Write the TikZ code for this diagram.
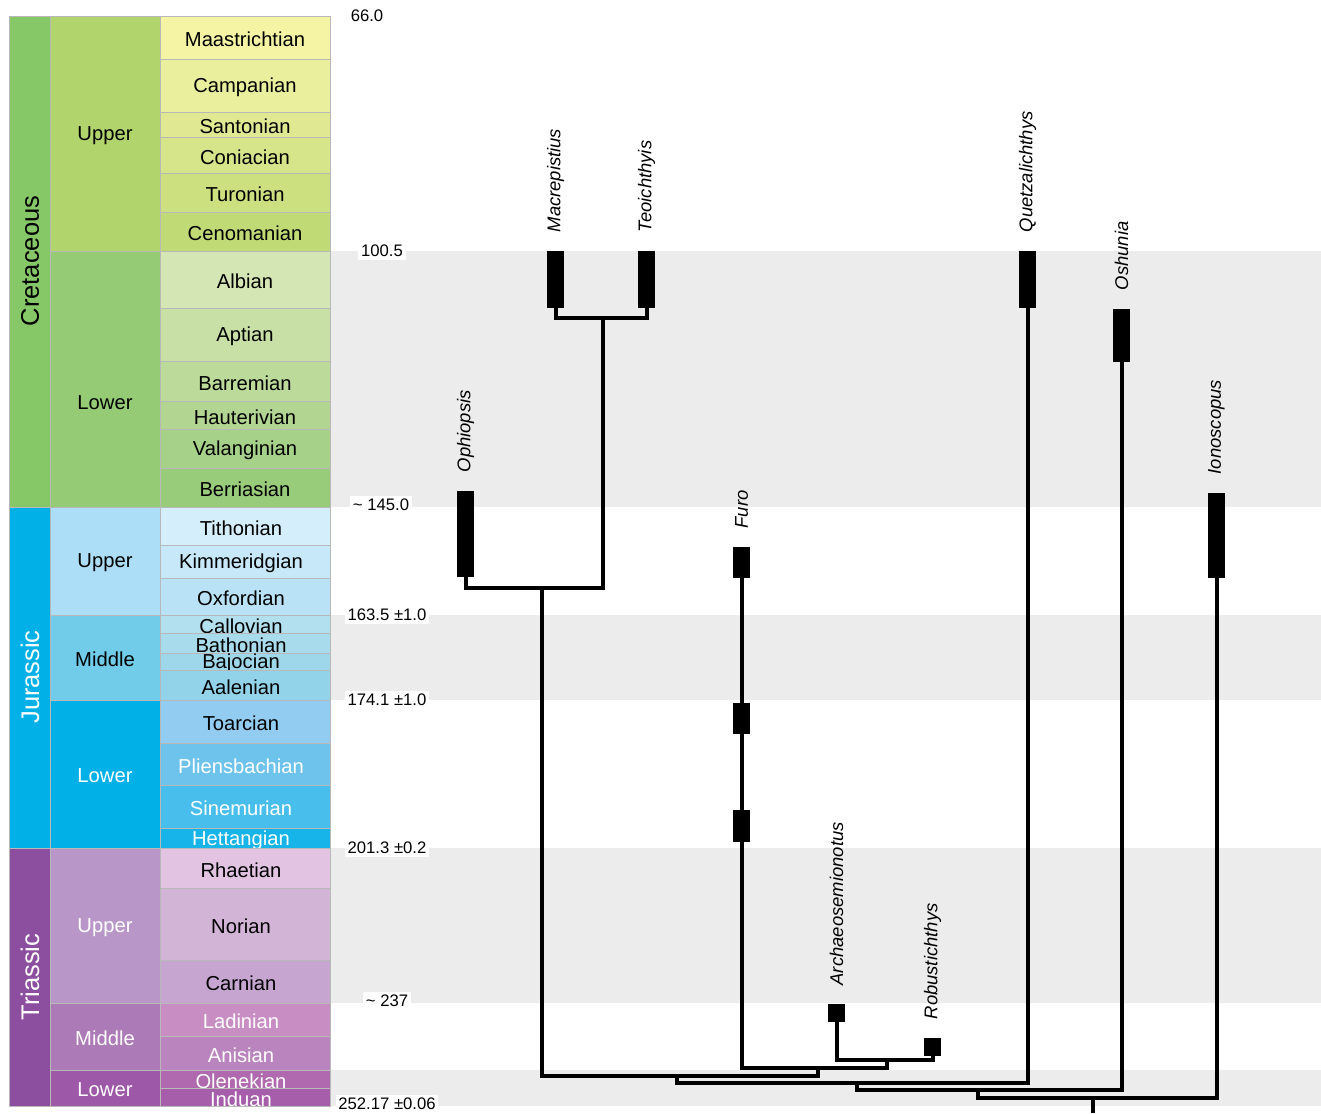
\documentclass[tikz,border=0pt]{standalone}
\usepackage{fontspec}
\setmainfont{Liberation Sans}
\usepackage{tikz}
\usetikzlibrary{calc}

% chart colours
\definecolor{cret}{RGB}{134,200,104}
\definecolor{kUp}{RGB}{178,212,108}
\definecolor{kLo}{RGB}{150,203,118}
\definecolor{maas}{RGB}{244,244,164}
\definecolor{camp}{RGB}{234,239,158}
\definecolor{sant}{RGB}{224,233,146}
\definecolor{coni}{RGB}{214,228,138}
\definecolor{turo}{RGB}{204,224,128}
\definecolor{ceno}{RGB}{192,218,118}
\definecolor{albi}{RGB}{212,230,180}
\definecolor{apti}{RGB}{200,224,166}
\definecolor{barr}{RGB}{188,219,154}
\definecolor{haut}{RGB}{178,214,146}
\definecolor{vala}{RGB}{166,209,136}
\definecolor{berr}{RGB}{152,203,122}
\definecolor{jura}{RGB}{0,176,230}
\definecolor{jUp}{RGB}{172,223,247}
\definecolor{jMi}{RGB}{112,204,232}
\definecolor{jLo}{RGB}{0,176,230}
\definecolor{tith}{RGB}{212,239,251}
\definecolor{kimm}{RGB}{198,232,249}
\definecolor{oxfo}{RGB}{186,226,247}
\definecolor{call}{RGB}{178,224,238}
\definecolor{bath}{RGB}{168,220,236}
\definecolor{bajo}{RGB}{158,215,234}
\definecolor{aale}{RGB}{146,211,234}
\definecolor{toar}{RGB}{146,205,241}
\definecolor{plie}{RGB}{110,195,237}
\definecolor{sine}{RGB}{72,190,236}
\definecolor{hett}{RGB}{22,180,232}
\definecolor{tria}{RGB}{140,78,158}
\definecolor{tUp}{RGB}{184,150,200}
\definecolor{tMi}{RGB}{172,122,182}
\definecolor{tLo}{RGB}{158,88,168}
\definecolor{rhae}{RGB}{226,196,226}
\definecolor{nori}{RGB}{210,180,215}
\definecolor{carn}{RGB}{198,166,208}
\definecolor{ladi}{RGB}{200,142,196}
\definecolor{anis}{RGB}{186,132,190}
\definecolor{olen}{RGB}{176,104,174}
\definecolor{indu}{RGB}{166,94,170}
\definecolor{band}{RGB}{236,236,236}

\begin{document}
\begin{tikzpicture}[x=0.02cm,y=-0.02cm,
    cell/.style={draw=black!28,line width=0.5pt},
    stagetxt/.style={font=\fontsize{11.5}{13}\selectfont,inner sep=0pt,yshift=-0.04cm},
    periodtxt/.style={font=\fontsize{14.5}{16}\selectfont,rotate=90,inner sep=0pt},
    agetxt/.style={font=\fontsize{9.5}{11}\selectfont,fill=white,inner sep=1.5pt},
    taxon/.style={font=\fontsize{10.5}{12}\selectfont\itshape,rotate=90,anchor=west,inner sep=0pt},
    rangebar/.style={fill=black,inner sep=0pt,minimum width=0.34cm},
    branch/.style={line width=0.08cm}]
    \useasboundingbox (0,0) rectangle (1321,1113);

    % grey bands
    \fill [band] (330,251) rectangle (1321,507);
    \fill [band] (330,615) rectangle (1321,700);
    \fill [band] (330,848) rectangle (1321,1003);
    \fill [band] (330,1070) rectangle (1321,1106);

    % periods
    \filldraw [cell,fill=cret] (9,16) rectangle (50,507);
    \filldraw [cell,fill=jura] (9,507) rectangle (50,848);
    \filldraw [cell,fill=tria] (9,848) rectangle (50,1106);
    \node [periodtxt] (cretTxt) at (30,261) {Cretaceous};
    \node [periodtxt,text=white] (juraTxt) at (30,677) {Jurassic};
    \node [periodtxt,text=white] (triaTxt) at (30,977) {Triassic};

    % series
    \filldraw [cell,fill=kUp] (50,16) rectangle (160,251);
    \filldraw [cell,fill=kLo] (50,251) rectangle (160,507);
    \filldraw [cell,fill=jUp] (50,507) rectangle (160,615);
    \filldraw [cell,fill=jMi] (50,615) rectangle (160,700);
    \filldraw [cell,fill=jLo] (50,700) rectangle (160,848);
    \filldraw [cell,fill=tUp] (50,848) rectangle (160,1003);
    \filldraw [cell,fill=tMi] (50,1003) rectangle (160,1070);
    \filldraw [cell,fill=tLo] (50,1070) rectangle (160,1106);
    \node [stagetxt] (kUpTxt) at (105,133.5) {Upper};
    \node [stagetxt] (kLoTxt) at (105,401) {Lower};
    \node [stagetxt] (jUpTxt) at (105,561) {Upper};
    \node [stagetxt] (jMiTxt) at (105,657.5) {Middle};
    \node [stagetxt,text=white] (jLoTxt) at (105,774) {Lower};
    \node [stagetxt,text=white] (tUpTxt) at (105,925.5) {Upper};
    \node [stagetxt,text=white] (tMiTxt) at (105,1036.5) {Middle};
    \node [stagetxt,text=white] (tLoTxt) at (105,1088) {Lower};

    % stages
    \foreach \ya/\yb/\c/\t/\tc/\xs in {16/59/maas/Maastrichtian/black/245, 59/112/camp/Campanian/black/245,
        112/137/sant/Santonian/black/245, 137/173/coni/Coniacian/black/245, 173/212/turo/Turonian/black/245,
        212/251/ceno/Cenomanian/black/245, 251/308/albi/Albian/black/245, 308/361/apti/Aptian/black/245,
        361/401/barr/Barremian/black/245, 401/429/haut/Hauterivian/black/245, 429/468/vala/Valanginian/black/245,
        468/507/berr/Berriasian/black/245, 507/545/tith/Tithonian/black/241, 545/578/kimm/Kimmeridgian/black/241,
        578/615/oxfo/Oxfordian/black/241, 615/633/call/Callovian/black/241, 633/653/bath/Bathonian/black/241,
        653/670/bajo/Bajocian/black/241, 670/700/aale/Aalenian/black/241, 700/743/toar/Toarcian/black/241,
        743/785/plie/Pliensbachian/white/241, 785/828/sine/Sinemurian/white/241, 828/848/hett/Hettangian/white/241,
        848/888/rhae/Rhaetian/black/241, 888/960/nori/Norian/black/241, 960/1003/carn/Carnian/black/241,
        1003/1036/ladi/Ladinian/white/241, 1036/1070/anis/Anisian/white/241, 1070/1088/olen/Olenekian/white/241,
        1088/1106/indu/Induan/white/241}
    {
        \filldraw [cell,fill=\c] (160,\ya) rectangle (330,\yb);
        \node [stagetxt,text=\tc] (s\c) at (\xs,{(\ya+\yb)/2}) {\t};
    }

    % ages
    \node [agetxt] (a66) at (367,16) {66.0};
    \node [agetxt] (a100) at (382,251) {100.5};
    \node [agetxt] (a145) at (381,505) {\textasciitilde\ 145.0};
    \node [agetxt] (a163) at (387,615) {163.5 ±1.0};
    \node [agetxt] (a174) at (387,700) {174.1 ±1.0};
    \node [agetxt] (a201) at (387,848) {201.3 ±0.2};
    \node [agetxt] (a237) at (387,1001) {\textasciitilde\ 237};
    \node [agetxt] (a252) at (387,1104) {252.17 ±0.06};

    % ranges
    \node [rangebar,minimum height=1.14cm] (macr) at (555.5,279.5) {};
    \node [rangebar,minimum height=1.14cm] (teoi) at (646.5,279.5) {};
    \node [rangebar,minimum height=1.72cm] (ophi) at (465.5,534) {};
    \node [rangebar,minimum height=0.62cm] (furoA) at (741.5,562.5) {};
    \node [rangebar,minimum height=0.62cm] (furoB) at (741.5,718.5) {};
    \node [rangebar,minimum height=0.64cm] (furoC) at (741.5,826) {};
    \node [rangebar,minimum height=0.36cm] (arch) at (836.5,1013) {};
    \node [rangebar,minimum height=0.36cm] (robu) at (932.5,1047) {};
    \node [rangebar,minimum height=1.14cm] (quet) at (1027.5,279.5) {};
    \node [rangebar,minimum height=1.06cm] (oshu) at (1121.5,335.5) {};
    \node [rangebar,minimum height=1.70cm] (iono) at (1216.5,535.5) {};

    \node [taxon] (tMacr) at ($(macr.north)+(0,-18)$) {Macrepistius};
    \node [taxon] (tTeoi) at ($(teoi.north)+(0,-18)$) {Teoichthyis};
    \node [taxon] (tOphi) at ($(ophi.north)+(0,-18)$) {Ophiopsis};
    \node [taxon] (tFuro) at ($(furoA.north)+(0,-18)$) {Furo};
    \node [taxon] (tArch) at ($(arch.north)+(0,-18)$) {Archaeosemionotus};
    \node [taxon] (tRobu) at ($(robu.north)+(0,-18)$) {Robustichthys};
    \node [taxon] (tQuet) at ($(quet.north)+(0,-18)$) {Quetzalichthys};
    \node [taxon] (tOshu) at ($(oshu.north)+(0,-18)$) {Oshunia};
    \node [taxon] (tIono) at ($(iono.north)+(0,-18)$) {Ionoscopus};

    % tree
    \coordinate (nMT) at (603,318);
    \coordinate (nOM) at (542,588);
    \coordinate (nAR) at (887,1060);
    \coordinate (nFAR) at (818,1068);
    \coordinate (nOF) at (677,1076);
    \coordinate (nQ) at (857,1083);
    \coordinate (nOs) at (978,1090);
    \coordinate (nRoot) at (1093,1098);
    \coordinate (root) at (1093,1113);

    \draw [branch] (macr.south) |- (nMT) -| (teoi.south);
    \draw [branch] (ophi.south) |- (nOM) -| (nMT);
    \draw [branch] (furoA.south) -- (furoB.north);
    \draw [branch] (furoB.south) -- (furoC.north);
    \draw [branch] (arch.south) |- (nAR) -| (robu.south);
    \draw [branch] (furoC.south) |- (nFAR) -| (nAR);
    \draw [branch] (nOM) |- (nOF) -| (nFAR);
    \draw [branch] (nOF) |- (nQ) -| (quet.south);
    \draw [branch] (nQ) |- (nOs) -| (oshu.south);
    \draw [branch] (nOs) |- (nRoot) -| (iono.south);
    \draw [branch] (nRoot) -- (root);
\end{tikzpicture}
\end{document}
